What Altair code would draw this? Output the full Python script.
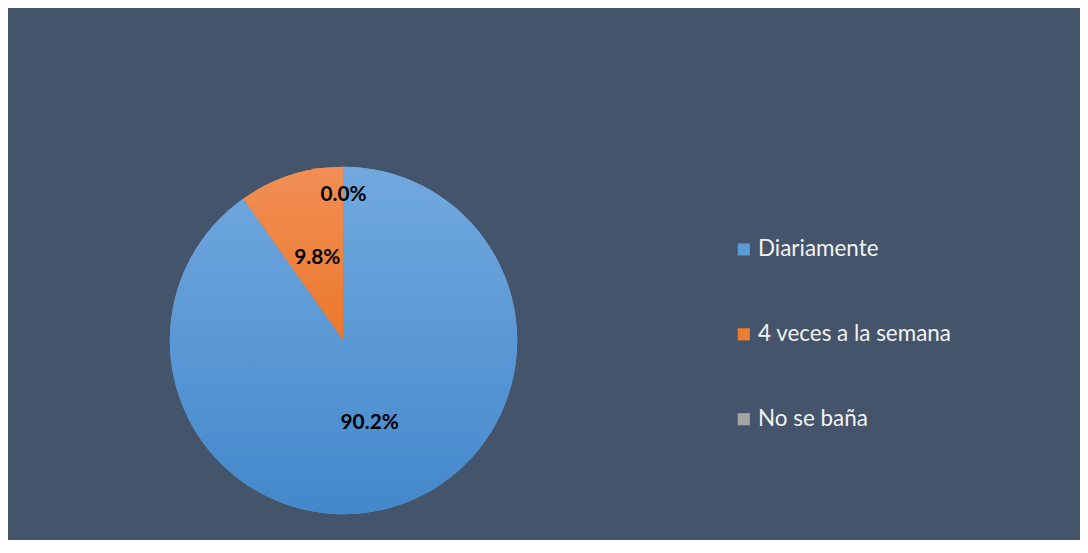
import altair as alt
import pandas as pd

categories = ["Diariamente", "4 veces a la semana", "No se baña"]
values = [90.2, 9.8, 0.0]
labels = ["90.2%", "9.8%", "0.0%"]
order = [0, 1, 2]
colors = ["#5B9BD5", "#ED7D31", "#A5A5A5"]
grad_top = ["#72A9DF", "#F18F55", "#B0B0B0"]
grad_bottom = ["#4388CB", "#EC782C", "#989898"]

df = pd.DataFrame({"category": categories, "value": values, "label": labels, "order": order})

theta_scale = alt.Scale(domain=[0, 100])
R = 175

base = alt.Chart(df).transform_window(
    end="sum(value)", frame=[None, 0], sort=[alt.SortField("order", order="ascending")]
).transform_calculate(
    start="datum.end - datum.value", mid="datum.end - datum.value / 2"
)

legend_arc = base.mark_arc(radius=R).encode(
    theta=alt.Theta("start:Q", scale=theta_scale, stack=False),
    theta2="end:Q",
    color=alt.Color(
        "category:N",
        scale=alt.Scale(domain=categories, range=colors),
        legend=alt.Legend(
            title=None,
            orient="none",
            legendX=730,
            legendY=96,
            symbolType="square",
            symbolSize=150,
            symbolStrokeWidth=0,
            symbolOpacity=1,
            labelFontSize=22.6,
            labelFont="Lato",
            labelColor="#F2F2F2",
            labelOffset=3,
            labelLimit=0,
            rowPadding=62.5,
            padding=0,
        ),
    ),
)

layers = [legend_arc]
for cat, top, bot in zip(categories, grad_top, grad_bottom):
    layers.append(
        base.transform_filter(alt.datum.category == cat)
        .mark_arc(
            radius=R,
            fill=alt.LinearGradient(
                gradient="linear",
                stops=[alt.GradientStop(color=top, offset=0), alt.GradientStop(color=bot, offset=1)],
                x1=0, x2=0, y1=0, y2=1,
            ),
        )
        .encode(theta=alt.Theta("start:Q", scale=theta_scale, stack=False), theta2="end:Q")
    )

text_main = base.transform_filter("datum.value > 0").mark_text(
    radius=87, fontSize=21, fontWeight="bold", font="Lato", color="black",
    align="center", baseline="middle",
).encode(theta=alt.Theta("mid:Q", scale=theta_scale, stack=False), text="label:N")

text_zero = base.transform_filter("datum.value == 0").mark_text(
    radius=147, fontSize=21, fontWeight="bold", font="Lato", color="black",
    align="center", baseline="middle",
).encode(theta=alt.Theta("mid:Q", scale=theta_scale, stack=False), text="label:N")

layers += [text_main, text_zero]

chart = alt.layer(*layers).properties(
    width=676,
    height=398,
    padding={"left": 0, "top": 134, "right": 404, "bottom": 0},
    autosize="none",
    background="#44546A",
).configure_view(stroke=None)

chart.save("out.html", embed_options={"renderer": "svg", "actions": False})
